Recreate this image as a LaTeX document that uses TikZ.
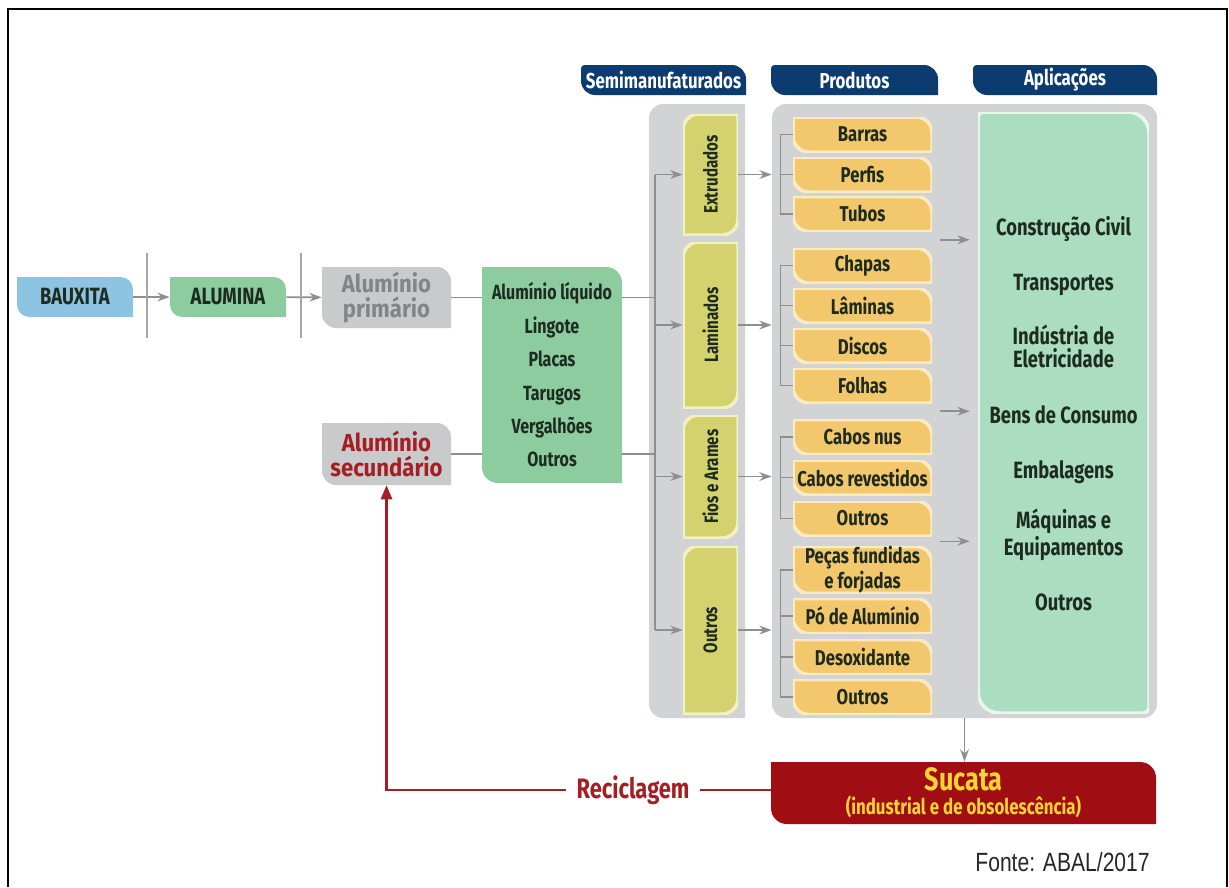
\documentclass[tikz,border=0pt]{standalone}
\usepackage{graphicx}
\usepackage{fontspec}
\setmainfont{Fira Sans}[FakeStretch=0.78]
\newfontfamily\widefont{Fira Sans}[FakeStretch=0.9]
\newfontfamily\fontefont{Liberation Sans}[FakeStretch=0.8]
\usetikzlibrary{positioning, calc, arrows.meta}

\definecolor{bauxblue}{HTML}{8CC4E2}
\definecolor{alugreen}{HTML}{8DCC9F}
\definecolor{boxgray}{HTML}{C9CACC}
\definecolor{panelgray}{HTML}{D2D3D5}
\definecolor{graytext}{HTML}{838487}
\definecolor{navy}{HTML}{0C3B70}
\definecolor{olive}{HTML}{D4D16F}
\definecolor{oliveline}{HTML}{F2F0C4}
\definecolor{prodorange}{HTML}{F3C76C}
\definecolor{prodline}{HTML}{FBEBC4}
\definecolor{appgreen}{HTML}{ABDDC0}
\definecolor{appline}{HTML}{E9F6EE}
\definecolor{scrapred}{HTML}{A00D12}
\definecolor{recred}{HTML}{A31F24}
\definecolor{scrapyellow}{HTML}{F7D434}
\definecolor{inkdark}{HTML}{1D2B21}
\definecolor{arrowgray}{HTML}{8D8E91}

\tikzset{
  rnw/.store in=\rnw, rne/.store in=\rne, rse/.store in=\rse, rsw/.store in=\rsw,
  boxfill/.store in=\boxfill, boxline/.store in=\boxline,
  rnw=0pt, rne=0pt, rse=0pt, rsw=0pt, boxfill=white, boxline=none,
  sz/.style 2 args={minimum width=#1*0.02cm, minimum height=#2*0.02cm},
  shaped/.style={inner sep=0pt, path picture={
    \filldraw[fill=\boxfill, draw=\boxline, line width=2pt]
      ([xshift=\rnw]path picture bounding box.north west)
      -- ([xshift=-\rne]path picture bounding box.north east)
      .. controls ([xshift=-0.45*\rne]path picture bounding box.north east)
              and ([yshift=-0.45*\rne]path picture bounding box.north east)
      .. ([yshift=-\rne]path picture bounding box.north east)
      -- ([yshift=\rse]path picture bounding box.south east)
      .. controls ([yshift=0.45*\rse]path picture bounding box.south east)
              and ([xshift=-0.45*\rse]path picture bounding box.south east)
      .. ([xshift=-\rse]path picture bounding box.south east)
      -- ([xshift=\rsw]path picture bounding box.south west)
      .. controls ([xshift=0.45*\rsw]path picture bounding box.south west)
              and ([yshift=0.45*\rsw]path picture bounding box.south west)
      .. ([yshift=\rsw]path picture bounding box.south west)
      -- ([yshift=-\rnw]path picture bounding box.north west)
      .. controls ([yshift=-0.45*\rnw]path picture bounding box.north west)
              and ([xshift=0.45*\rnw]path picture bounding box.north west)
      .. ([xshift=\rnw]path picture bounding box.north west)
      -- cycle;}},
}
\tikzstyle{stage} = [shaped, rne=7pt, rsw=7pt, text=inkdark, font=\bfseries\fontsize{13.4}{12}\selectfont]
\tikzstyle{head} = [shaped, boxfill=navy, rnw=2pt, rne=8pt, rsw=8pt, text=white, font=\bfseries\fontsize{12.3}{13}\selectfont]
\tikzstyle{panel} = [shaped, boxfill=panelgray]
\tikzstyle{semi} = [shaped, boxfill=olive, boxline=oliveline, rnw=9pt, rse=9pt, text=inkdark, font=\bfseries\fontsize{11}{13}\selectfont]
\tikzstyle{prod} = [shaped, boxfill=prodorange, boxline=prodline, rne=9pt, rsw=9pt, sz={139}{35}, text=inkdark, font=\bfseries\fontsize{12.2}{11.5}\selectfont]
\tikzstyle{apptext} = [inner sep=0pt, anchor=base, text=inkdark, align=center, font=\bfseries\fontsize{13.4}{12.8}\selectfont]
\tikzstyle{conn} = [arrowgray, line width=0.9pt]
\tikzstyle{bracket} = [arrowgray, line width=0.7pt]
\tikzstyle{arr} = [conn, -{Stealth[length=7pt,width=5pt]}]
\tikzstyle{sepline} = [arrowgray!80, line width=0.6pt]
\tikzstyle{recyc} = [recred, line width=1.2pt]

\begin{document}
\begin{tikzpicture}[x=0.02cm, y=-0.02cm]
    \useasboundingbox (0,0) rectangle (1229,887);
    \draw [line width=1.1pt] (8,887) -- (8,9) -- (1227,9) -- (1227,887);

    % panels and headers
    \node (semipanel) at (697,411) [panel, sz={96}{614}, rnw=8pt, rsw=8pt] {};
    \node (prodpanel) at (964.5,411) [panel, sz={385}{614}, rnw=8pt, rne=8pt, rse=8pt, rsw=8pt] {};
    \node (semihead) at (663.5,80) [head, sz={165}{30}] {Semimanufaturados};
    \node (prodhead) at (854.5,80) [head, sz={167}{30}] {Produtos};
    \node (apphead) at (1065,80) [head, sz={184}{30}] {Aplicações};

    % raw material chain
    \node (bauxita) at (75,297) [stage, boxfill=bauxblue, sz={116}{40}] {BAUXITA};
    \node (alumina) at (228,297) [stage, boxfill=alugreen, sz={116}{40}] {ALUMINA};
    \draw [arr] (bauxita) -- (alumina);
    \draw [sepline] (147,253) -- (147,338);
    \node (primario) at (386.5,297.5) [stage, boxfill=boxgray, sz={129}{61}, rne=8pt, rsw=8pt, text=graytext, align=center, font=\widefont\bfseries\fontsize{14}{14}\selectfont] {Alumínio\\primário};
    \draw [arr] (alumina) -- (primario);
    \draw [sepline] (301,253) -- (301,338);
    \node (secundario) at (386.5,454) [stage, boxfill=boxgray, sz={129}{62}, rne=8pt, rsw=8pt, text=recred, align=center, font=\widefont\bfseries\fontsize{14}{14}\selectfont] {Alumínio\\secundário};

    \node (liquid) at (552,375) [stage, boxfill=alugreen, sz={140}{216}, rne=9pt, rsw=9pt, align=center, font=\bfseries\fontsize{11.7}{19}\selectfont] {Alumínio líquido\\Lingote\\Placas\\Tarugos\\Vergalhões\\Outros};
    \draw [conn] (primario.east) -- (liquid.west |- primario.east);
    \draw [conn] (secundario.east) -- (liquid.west |- secundario.east);

    % semimanufactured
    \node (extr) at (710.5,174.5) [semi, sz={55}{121}] {\rotatebox{90}{Extrudados}};
    \node (lami) at (710.5,325) [semi, sz={55}{166}] {\rotatebox{90}{Laminados}};
    \node (fios) at (710.5,476.5) [semi, sz={55}{123}] {\rotatebox{90}{Fios e Arames}};
    \node (outs) at (710.5,630) [semi, sz={55}{168}] {\rotatebox{90}{Outros}};

    \coordinate (trunk) at (655,297);
    \draw [conn] (liquid.east |- primario.east) -- (trunk |- primario.east);
    \draw [conn] (liquid.east |- secundario.east) -- (trunk |- secundario.east);
    \draw [conn] (trunk |- extr.west) -- (trunk |- outs.west);
    \draw [arr] (trunk |- extr.west) -- (extr.west);
    \draw [arr] (trunk |- lami.west) -- (lami.west);
    \draw [arr] (trunk |- fios.west) -- (fios.west);
    \draw [arr] (trunk |- outs.west) -- (outs.west);

    % products
    \node (barras) at (862.5,134.5) [prod] {Barras};
    \node (perfis) at (862.5,174.5) [prod] {Perfis};
    \node (tubos) at (862.5,214) [prod] {Tubos};
    \node (chapas) at (862.5,265.5) [prod] {Chapas};
    \node (laminas) at (862.5,305.5) [prod] {Lâminas};
    \node (discos) at (862.5,345.5) [prod] {Discos};
    \node (folhas) at (862.5,385.5) [prod] {Folhas};
    \node (cabosnus) at (862.5,437) [prod] {Cabos nus};
    \node (cabosrev) at (862.5,477.5) [prod] {Cabos revestidos};
    \node (outfios) at (862.5,518.5) [prod] {Outros};
    \node (pecas) at (862.5,570) [prod, sz={139}{46}, align=center] {Peças fundidas\\e forjadas};
    \node (po) at (862.5,616) [prod] {Pó de Alumínio};
    \node (desox) at (862.5,657) [prod] {Desoxidante};
    \node (outout) at (862.5,697) [prod] {Outros};

    \draw [arr] (extr.east) -- (prodpanel.west |- extr.east);
    \draw [arr] (lami.east) -- (prodpanel.west |- lami.east);
    \draw [arr] (fios.east) -- (prodpanel.west |- fios.east);
    \draw [arr] (outs.east) -- (prodpanel.west |- outs.east);

    \draw [bracket] (barras.west) -- ++(-12,0) |- (tubos.west);
    \draw [bracket] (perfis.west) -- ++(-12,0);
    \draw [bracket] (chapas.west) -- ++(-12,0) |- (folhas.west);
    \draw [bracket] (laminas.west) -- ++(-12,0);
    \draw [bracket] (discos.west) -- ++(-12,0);
    \draw [bracket] (cabosnus.west) -- ++(-12,0) |- (outfios.west);
    \draw [bracket] (cabosrev.west) -- ++(-12,0);
    \draw [bracket] (pecas.west) -- ++(-12,0) |- (outout.west);
    \draw [bracket] (po.west) -- ++(-12,0);
    \draw [bracket] (desox.west) -- ++(-12,0);

    % applications
    \node (apps) at (1063.5,412.5) [shaped, boxfill=appgreen, boxline=appline, sz={171}{601}, rnw=3pt, rne=12pt, rse=3pt, rsw=12pt] {};
    \node (civil) at (1063.5,235) [apptext] {Construção Civil};
    \node (transp) at (1063.5,290) [apptext] {Transportes};
    \node (eletr) at (1063.5,367) [apptext] {Indústria de\\Eletricidade};
    \node (bens) at (1063.5,423) [apptext] {Bens de Consumo};
    \node (embal) at (1063.5,478) [apptext] {Embalagens};
    \node (maq) at (1063.5,555) [apptext] {Máquinas e\\Equipamentos};
    \node (outapp) at (1063.5,610) [apptext] {Outros};

    \coordinate (gap1) at ($(tubos.south east)!.5!(chapas.north east)$);
    \coordinate (gap2) at ($(folhas.south east)!.5!(cabosnus.north east)$);
    \coordinate (gap3) at ($(outfios.south east)!.5!(pecas.north east)$);
    \draw [arr, shorten >=4.5pt] ([xshift=4.5pt]gap1) -- (apps.west |- gap1);
    \draw [arr, shorten >=4.5pt] ([xshift=4.5pt]gap2) -- (apps.west |- gap2);
    \draw [arr, shorten >=4.5pt] ([xshift=4.5pt]gap3) -- (apps.west |- gap3);

    % scrap and recycling
    \node (sucata) at (963.5,793) [shaped, boxfill=scrapred, rne=9pt, rsw=9pt, sz={385}{62}, text=scrapyellow, align=center, font=\bfseries\fontsize{12.3}{13.5}\selectfont] {{\fontsize{18.4}{16}\selectfont Sucata}\\(industrial e de obsolescência)};
    \draw [arr] (prodpanel.south) -- (prodpanel.south |- sucata.north);

    \node (recic) at (633,790) [inner sep=6pt, text=recred, font=\bfseries\fontsize{16}{16}\selectfont] {Reciclagem};
    \draw [recyc] (sucata.west |- recic.east) -- (recic.east);
    \draw [recyc, -{Triangle[length=8pt,width=6.5pt]}] (recic.west) -| (secundario.south);

    \node (fonte) at (1150,862) [anchor=east, inner sep=0pt, text=black!85, font=\fontefont\fontsize{15}{17}\selectfont] {Fonte: ABAL/2017};
\end{tikzpicture}
\end{document}
